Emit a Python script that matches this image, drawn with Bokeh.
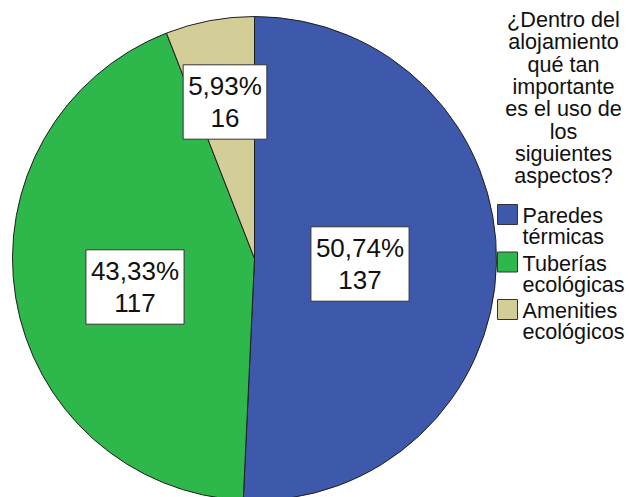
import math
from bokeh.plotting import figure
from bokeh.models import Range1d, Label, ColumnDataSource
from bokeh.embed import file_html
from bokeh.resources import INLINE
from bokeh.core.properties import value

# ---- data ----
categories = ["Paredes térmicas", "Tuberías ecológicas", "Amenities ecológicos"]
legend_lines = [["Paredes", "térmicas"], ["Tuberías", "ecológicas"], ["Amenities", "ecológicos"]]
counts = [137, 117, 16]
colors = ["#3E58AC", "#2EB84C", "#D3CE97"]
title_lines = ["¿Dentro del", "alojamiento", "qué tan", "importante",
               "es el uso de", "los", "siguientes", "aspectos?"]

# ---- layout (pixels of the picture) ----
W, H = 629, 497
def sy(y):
    return H - y

CX, CY, R = 254, 258, 242
label_pos = [(359.5, 263.5), (134.5, 286.5), (224.5, 101.5)]
FONT = "Liberation Sans"

total = sum(counts)
starts, ends = [], []
cum = 0
for c in counts:
    starts.append(math.pi / 2 - 2 * math.pi * cum / total)
    cum += c
    ends.append(math.pi / 2 - 2 * math.pi * cum / total)

src = ColumnDataSource(dict(cat=categories, count=counts, color=colors,
                            start=starts, end=ends))

p = figure(width=W, height=H, output_backend="svg", toolbar_location=None,
           x_range=Range1d(0, W), y_range=Range1d(0, H), min_border=0)
p.axis.visible = False
p.grid.visible = False
p.outline_line_color = None
p.background_fill_color = "white"
p.border_fill_color = "white"

p.wedge(x=CX, y=sy(CY), radius=R, start_angle="start", end_angle="end",
        direction="clock", fill_color="color", line_color="#1e1e1e",
        line_width=1, source=src)

for i, c in enumerate(counts):
    pct = f"{c / total * 100:.2f}".replace(".", ",") + "%"
    lx, ly = label_pos[i]
    lab = Label(x=lx, y=sy(ly), text=f"{pct}\n{c}", text_align="center",
                text_baseline="middle", text_font=FONT, text_font_size="26px",
                text_line_height=1.08, text_color="#111111",
                background_fill_color="white", border_line_color="#333333",
                border_line_width=1,
                padding=dict(left=5, right=5, top=6, bottom=6))
    p.add_layout(lab)

# legend title
tx = 563
p.text(x=[tx] * len(title_lines),
       y=[sy(19 + 22.3 * i) for i in range(len(title_lines))],
       text=title_lines, text_align="center", text_baseline="alphabetic",
       text_font=value(FONT), text_font_size="21.6px", text_color="#111111")

# legend items
item_base = [215, 262.5, 310]
for i, lines in enumerate(legend_lines):
    b = item_base[i]
    p.rect(x=[507], y=[sy(b - 1)], width=20, height=20, fill_color=colors[i],
           line_color="#333333", line_width=1)
    p.text(x=[522, 522], y=[sy(b), sy(b + 21)], text=lines,
           text_align="left", text_baseline="alphabetic",
           text_font=value(FONT), text_font_size="21.6px", text_color="#111111")

open("out.html", "w").write(file_html(p, INLINE))
